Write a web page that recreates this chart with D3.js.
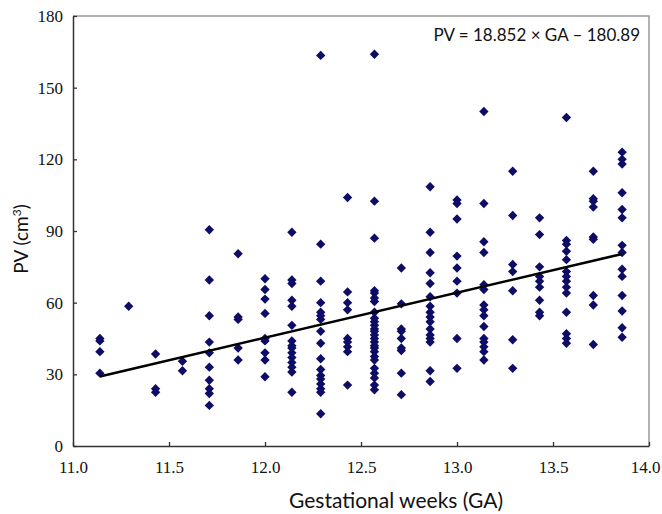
<!DOCTYPE html>
<html>
<head>
<meta charset="utf-8">
<script src="https://cdn.jsdelivr.net/npm/d3@7"></script>
<style>
  body { margin: 0; background: #fff; }
</style>
</head>
<body>
<div id="vis"></div>
<script>
// gestational age columns (weeks + days/7)
const gaWeeks = [11.14, 11.29, 11.43, 11.57, 11.71, 11.86, 12.00, 12.14, 12.29, 12.43,
                 12.57, 12.71, 12.86, 13.00, 13.14, 13.29, 13.43, 13.57, 13.71, 13.86];

// placental volume readings, one list per column above
const pvValues = [
  [45, 44, 39.5, 30.5],
  [58.5],
  [38.5, 24, 22.5],
  [35.5, 31.5],
  [90.5, 69.5, 54.5, 43.5, 39, 33, 27.5, 24, 22, 17],
  [80.5, 54, 53, 41, 36],
  [70, 65.5, 61.5, 55.5, 45, 44, 39, 36, 29],
  [89.5, 69.5, 68, 61, 58.5, 50.5, 44, 42, 41, 39, 37, 35, 33, 31, 22.5],
  [163.5, 84.5, 69, 60, 56, 54.5, 53, 48, 43, 36.5, 32, 29.5, 28, 26, 24, 22.5, 13.5],
  [104, 64.5, 60, 57, 45, 43.5, 41.5, 39.5, 25.5],
  [164, 102.5, 87, 65, 64, 62, 60.5, 56, 53.5, 52, 50.5, 49, 48, 46.5, 45, 43.5, 42, 41, 39.5, 37.5, 36, 32.5, 30.5, 28.5, 25.5, 23.5],
  [74.5, 59.5, 49, 48, 45, 41, 40, 30.5, 21.5],
  [108.5, 89.5, 81, 72.5, 68, 62.5, 58.5, 56, 54, 52, 49, 46.5, 45, 43.5, 31.5, 27],
  [103, 101.5, 95, 79.5, 74.5, 69, 64, 45, 32.5],
  [140, 101.5, 85.5, 81, 67.5, 65.5, 59, 57, 54.5, 50, 45, 43.5, 41.5, 39.5, 36],
  [115, 96.5, 76, 73, 65, 44.5, 32.5],
  [95.5, 88.5, 75, 71, 69, 66.5, 61, 56, 54.5],
  [137.5, 86, 84.5, 81.5, 78, 73, 71, 69, 66.5, 64, 56, 47, 45, 43],
  [115, 103.5, 102.5, 100, 87.5, 86.5, 63, 59, 42.5],
  [123, 120, 118, 106, 99, 95.5, 84, 81, 74, 71, 63, 56.5, 49.5, 45.5]
];

const xTicks = [11.0, 11.5, 12.0, 12.5, 13.0, 13.5, 14.0];
const yTicks = [0, 30, 60, 90, 120, 150, 180];

// fitted line PV = slope * GA + intercept
const slope = 18.852;
const intercept = -180.89;

let width = 662;
let height = 514;
let margin = { top: 16, left: 73, right: 13, bottom: 68 };

let svg = d3.select('#vis')
  .append('svg')
    .attr('width', width)
    .attr('height', height);

let xScale = d3.scaleLinear()
  .domain([11, 14])
  .range([margin.left, width - margin.right]);

let yScale = d3.scaleLinear()
  .domain([0, 180])
  .range([height - margin.bottom, margin.top]);

// frame: top and right edges are light gray
svg.append('path')
  .attr('d', `M${xScale(11)},${yScale(180)}H${xScale(14)}V${yScale(0)}`)
  .attr('fill', 'none')
  .attr('stroke', '#999')
  .attr('stroke-width', 1.5);

// x axis, ticks pointing inward
let xAxis = svg.append('g')
  .attr('transform', `translate(0, ${yScale(0)})`)
  .call(d3.axisBottom(xScale).tickValues(xTicks).tickFormat(d3.format('.1f')).tickSizeInner(-4).tickSizeOuter(0).tickPadding(15));
xAxis.select('.domain').attr('stroke', '#333').attr('stroke-width', 1.5);
xAxis.selectAll('.tick line').attr('stroke', '#333').attr('stroke-width', 1.3);
xAxis.selectAll('.tick text')
  .attr('font-family', '"Liberation Serif", serif')
  .attr('font-size', 17)
  .attr('fill', '#111')
  .attr('dx', (d, i) => i === xTicks.length - 1 ? -4 : 0);

// y axis
let yAxis = svg.append('g')
  .attr('transform', `translate(${margin.left}, 0)`)
  .call(d3.axisLeft(yScale).tickValues(yTicks).tickSizeInner(-4).tickSizeOuter(0).tickPadding(10));
yAxis.select('.domain').attr('stroke', '#333').attr('stroke-width', 1.5);
yAxis.selectAll('.tick line').attr('stroke', '#333').attr('stroke-width', 1.3);
yAxis.selectAll('.tick text')
  .attr('font-family', '"Liberation Serif", serif')
  .attr('font-size', 17)
  .attr('fill', '#111');

// flatten the columns into points
let points = [];
gaWeeks.forEach(function(ga, i) {
  pvValues[i].forEach(function(pv) { points.push({ ga: ga, pv: pv }); });
});

let diamond = d3.symbol().type(d3.symbolDiamond2).size(56);

svg.append('g')
  .selectAll('path')
  .data(points)
  .enter()
  .append('path')
    .attr('d', diamond)
    .attr('transform', d => `translate(${xScale(d.ga)}, ${yScale(d.pv)})`)
    .attr('fill', '#0d0d66');

// regression line over the data range
let gaMin = d3.min(gaWeeks);
let gaMax = d3.max(gaWeeks);
let line = d3.line()
  .x(d => xScale(d))
  .y(d => yScale(slope * d + intercept));

svg.append('path')
  .attr('d', line([gaMin, gaMax]))
  .attr('fill', 'none')
  .attr('stroke', '#000')
  .attr('stroke-width', 2.5);

// equation label
svg.append('text')
  .attr('x', 640)
  .attr('y', 41)
  .attr('text-anchor', 'end')
  .style('font-family', 'Lato, sans-serif')
  .style('font-size', '17px')
  .style('fill', '#111')
  .text('PV = 18.852 × GA – 180.89');

// axis titles
svg.append('text')
  .attr('x', 396)
  .attr('y', 508)
  .attr('text-anchor', 'middle')
  .style('font-family', 'Lato, sans-serif')
  .style('font-size', '21px')
  .style('fill', '#111')
  .text('Gestational weeks (GA)');

let yTitle = svg.append('text')
  .attr('transform', 'translate(28, 239) rotate(-90)')
  .attr('text-anchor', 'middle')
  .style('font-family', 'Lato, sans-serif')
  .style('font-size', '19px')
  .style('fill', '#111');
yTitle.append('tspan').text('PV (cm');
yTitle.append('tspan').attr('dy', -7).style('font-size', '12px').text('3');
yTitle.append('tspan').attr('dy', 7).text(')');
</script>
</body>
</html>
